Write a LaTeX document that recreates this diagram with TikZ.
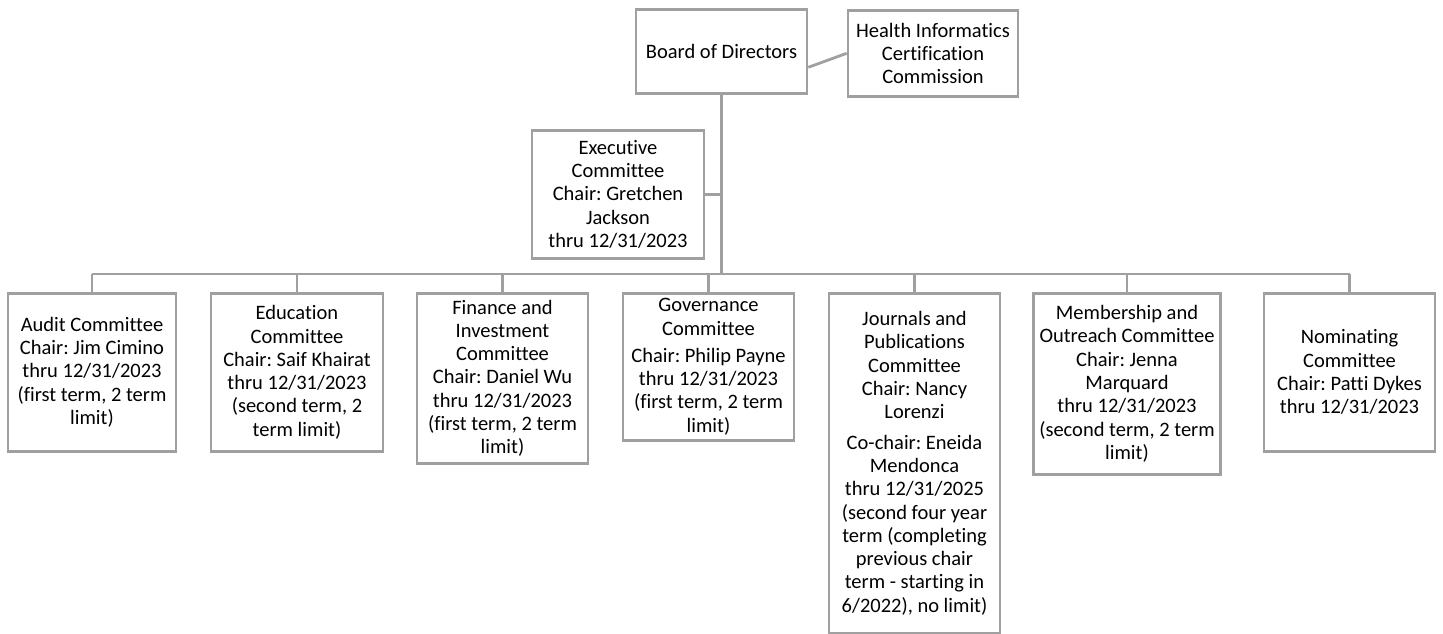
\documentclass[tikz,border=0pt]{standalone}
\usepackage{fontspec}
\setmainfont{Carlito}[Ligatures=NoCommon]
\frenchspacing
\definecolor{boxgray}{HTML}{A0A0A0}
\tikzset{
  orgbox/.style={draw=boxgray, line width=2.6pt, anchor=north, align=flush center,
    inner xsep=0pt, inner ysep=0pt, text width=#1,
    font=\fontsize{20.5}{23.3}\selectfont},
  orgline/.style={draw=boxgray, line width=2.8pt},
}
\begin{document}
\begin{tikzpicture}[x=1pt,y=-1pt]
    \useasboundingbox (0,0) rectangle (1443,634);
    % 上层
    \node[orgbox=171pt, minimum height=84pt] (board) at (721.5,8) {Board of Directors};
    \node[orgbox=170pt, minimum height=86pt] (hicc) at (933,9) {Health Informatics\\Certification\\Commission};
    \node[orgbox=172pt, minimum height=128pt] (exec) at (618,129) {Executive\\Committee\\Chair: Gretchen\\Jackson\\thru 12/31/2023};

    % 各委员会
    \node[orgbox=168pt, minimum height=158pt] (audit) at (92,292) {Audit Committee\\Chair: Jim Cimino\\thru 12/31/2023\\(first term, 2 term\\limit)};
    \node[orgbox=172pt, minimum height=158pt] (edu) at (297,292) {Education\\Committee\\Chair: Saif Khairat\\thru 12/31/2023\\(second term, 2\\term limit)};
    \node[orgbox=171pt, minimum height=170pt] (fin) at (502.5,292) {Finance and\\Investment\\Committee\\Chair: Daniel Wu\\thru 12/31/2023\\(first term, 2 term\\limit)};
    \node[orgbox=171pt, minimum height=147pt] (gov) at (708.5,292) {Governance\\Committee\\[4pt]Chair: Philip Payne\\thru 12/31/2023\\(first term, 2 term\\limit)};
    \node[orgbox=171pt, minimum height=340pt] (jour) at (914.5,292) {Journals and\\Publications\\Committee\\Chair: Nancy\\Lorenzi\\[7pt]Co-chair: Eneida\\Mendonca\\thru 12/31/2025\\(second four year\\term (completing\\previous chair\\term - starting in\\6/2022), no limit)};
    \node[orgbox=187pt, minimum height=181pt] (memb) at (1127,292) {Membership and\\Outreach Committee\\Chair: Jenna\\Marquard\\thru 12/31/2023\\(second term, 2 term\\limit)};
    \node[orgbox=171pt, minimum height=158pt] (nom) at (1349.5,292) {Nominating\\Committee\\Chair: Patti Dykes\\thru 12/31/2023};

    % 连线
    \coordinate (bus) at (721.5,274);
    \draw[orgline] ([yshift=-16pt]board.east) -- (hicc.west);
    \draw[orgline] (board.south) -- (bus);
    \draw[orgline] (exec.east) -- (exec.east -| board.south);
    \draw[orgline] (audit.north |- bus) -- (nom.north |- bus);
    \foreach \c in {audit,edu,fin,gov,jour,memb,nom}
        \draw[orgline] (\c.north |- bus) -- (\c.north);
\end{tikzpicture}
\end{document}
